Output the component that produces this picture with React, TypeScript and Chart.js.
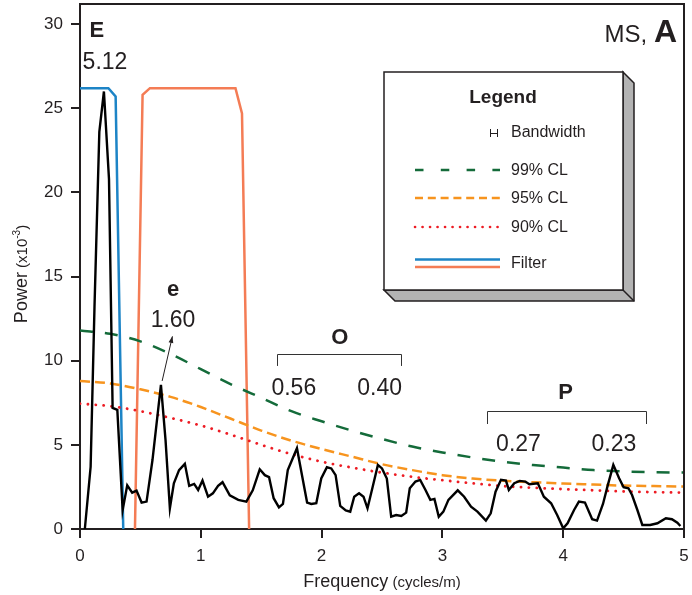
import React, { useEffect, useRef } from "react";
import { Chart, registerables } from "chart.js";

Chart.register(...registerables);

// ---- data ----
const freq: number[] = [
  0.04, 0.088, 0.12, 0.16, 0.198, 0.24, 0.27, 0.309, 0.353, 0.391, 0.432, 0.468, 0.51, 0.551,
  0.6, 0.67, 0.708, 0.744, 0.777, 0.82, 0.868, 0.904, 0.945, 0.978, 1.014, 1.06, 1.1, 1.143,
  1.18, 1.24, 1.31, 1.377, 1.43, 1.488, 1.53, 1.565, 1.603, 1.647, 1.68, 1.72, 1.796, 1.84,
  1.88, 1.915, 1.956, 1.997, 2.044, 2.08, 2.116, 2.154, 2.2, 2.237, 2.27, 2.31, 2.347, 2.38,
  2.42, 2.466, 2.5, 2.54, 2.576, 2.617, 2.66, 2.7, 2.73, 2.777, 2.816, 2.86, 2.9, 2.934, 2.97,
  3.008, 3.05, 3.127, 3.18, 3.237, 3.29, 3.36, 3.4, 3.44, 3.485, 3.526, 3.55, 3.595, 3.64,
  3.686, 3.72, 3.79, 3.84, 3.9, 3.95, 4.0, 4.036, 4.09, 4.13, 4.18, 4.24, 4.28, 4.33, 4.366,
  4.415, 4.463, 4.5, 4.54, 4.57, 4.614, 4.655, 4.72, 4.78, 4.85, 4.9, 4.945, 4.97,
];
const power: number[] = [
  0, 3.7, 13.2, 23.6, 26.0, 20.8, 7.2, 7.08, 1.13, 2.6, 2.16, 2.28, 1.57, 1.63,
  4.1, 8.57, 5.3, 1.23, 2.72, 3.5, 3.87, 2.56, 2.68, 2.32, 2.88, 1.92, 2.12, 2.56,
  2.78, 2.0, 1.73, 1.63, 2.3, 3.55, 3.2, 3.08, 1.83, 1.29, 1.49, 3.5, 4.8, 3.1,
  1.57, 1.49, 1.53, 3.0, 3.67, 3.6, 3.2, 1.37, 1.1, 1.03, 1.92, 2.12, 1.92, 1.23,
  2.42, 3.81, 3.6, 3.0, 0.73, 0.83, 0.77, 0.97, 2.42, 2.82, 2.92, 2.32, 1.73, 1.79, 0.73,
  1.03, 1.73, 2.3, 1.92, 1.33, 1.03, 0.5, 0.93, 2.22, 2.92, 2.88, 2.32, 2.72, 2.86,
  2.82, 2.66, 2.72, 1.92, 1.53, 0.83, 0.04, 0.34, 1.13, 1.63, 1.57, 0.58, 0.5, 1.5, 2.52,
  3.81, 3.02, 2.48, 2.42, 2.02, 1.13, 0.24, 0.24, 0.34, 0.64, 0.58, 0.37, 0.18,
];

const clFreq: number[] = [
  0, 0.25, 0.5, 0.75, 1.0, 1.25, 1.5, 1.75, 2.0, 2.25, 2.5, 2.75, 3.0, 3.25, 3.5, 3.75, 4.0,
  4.25, 4.5, 4.75, 5.0,
];
const cl99: number[] = [
  11.8, 11.6, 11.15, 10.4, 9.5, 8.6, 7.8, 7.0, 6.4, 5.85, 5.35, 4.9, 4.55, 4.25, 4.0, 3.8,
  3.65, 3.5, 3.42, 3.38, 3.35,
];
const cl95: number[] = [
  8.8, 8.65, 8.3, 7.85, 7.25, 6.55, 5.85, 5.25, 4.75, 4.3, 3.85, 3.5, 3.2, 3.0, 2.87, 2.78,
  2.7, 2.64, 2.58, 2.55, 2.52,
];
const cl90: number[] = [
  7.45, 7.3, 7.0, 6.6, 6.15, 5.6, 5.0, 4.45, 4.0, 3.65, 3.35, 3.1, 2.9, 2.72, 2.55, 2.45,
  2.37, 2.3, 2.23, 2.19, 2.16,
];

const filterBlueX: number[] = [0, 0.235, 0.295, 0.358];
const filterBlueY: number[] = [26.2, 26.2, 25.7, 0];
const filterOrangeX: number[] = [0.455, 0.518, 0.579, 1.287, 1.341, 1.4];
const filterOrangeY: number[] = [0, 25.8, 26.2, 26.2, 24.7, 0];

const xTicks: number[] = [0, 1, 2, 3, 4, 5];
const yTicks: number[] = [0, 5, 10, 15, 20, 25, 30];

const legendLabels: string[] = ["Bandwidth", "99% CL", "95% CL", "90% CL", "Filter"];

const FONT = "'Liberation Sans', Arial, Helvetica, sans-serif";
const INK = "#231f20";
const C_GREEN = "#146b3a";
const C_ORANGE = "#f7941e";
const C_RED = "#ed1c24";
const C_BLUE = "#1d84c6";
const C_SALMON = "#f47c55";

const zip = (xs: number[], ys: number[]) => xs.map((x, i) => ({ x, y: ys[i] }));

const decorPlugin = {
  id: "decor",
  afterDraw(chart: any) {
    const ctx: CanvasRenderingContext2D = chart.ctx;
    const xs = chart.scales.x;
    const ys = chart.scales.y;
    const ca = chart.chartArea;
    const px = (v: number) => xs.getPixelForValue(v);
    const py = (v: number) => ys.getPixelForValue(v);
    ctx.save();

    // box border (top & right)
    ctx.strokeStyle = INK;
    ctx.lineWidth = 2;
    ctx.beginPath();
    ctx.moveTo(ca.left, ca.top);
    ctx.lineTo(ca.right, ca.top);
    ctx.lineTo(ca.right, ca.bottom);
    ctx.stroke();

    // annotation text
    const text = (s: string, x: number, y: number, size: number, bold = false, align: CanvasTextAlign = "center") => {
      ctx.font = `${bold ? "bold " : ""}${size}px ${FONT}`;
      ctx.fillStyle = INK;
      ctx.textAlign = align;
      ctx.textBaseline = "middle";
      ctx.fillText(s, px(x), py(y));
    };
    text("E", 0.14, 29.6, 22, true);
    text("5.12", 0.207, 27.7, 23);
    text("e", 0.77, 14.2, 22, true);
    text("1.60", 0.77, 12.36, 23);
    text("O", 2.15, 11.35, 22, true);
    text("0.56", 1.77, 8.32, 23);
    text("0.40", 2.48, 8.32, 23);
    text("P", 4.02, 8.08, 22, true);
    text("0.27", 3.63, 5.0, 23);
    text("0.23", 4.42, 5.0, 23);

    // arrow to e peak label
    const ax0 = px(0.68), ay0 = py(8.8), ax1 = px(0.765), ay1 = py(11.45);
    ctx.strokeStyle = INK;
    ctx.fillStyle = INK;
    ctx.lineWidth = 1;
    ctx.beginPath();
    ctx.moveTo(ax0, ay0);
    ctx.lineTo(ax1, ay1);
    ctx.stroke();
    const ang = Math.atan2(ay1 - ay0, ax1 - ax0);
    ctx.beginPath();
    ctx.moveTo(ax1, ay1);
    ctx.lineTo(ax1 - 7 * Math.cos(ang - 0.35), ay1 - 7 * Math.sin(ang - 0.35));
    ctx.lineTo(ax1 - 7 * Math.cos(ang + 0.35), ay1 - 7 * Math.sin(ang + 0.35));
    ctx.closePath();
    ctx.fill();

    // brackets
    const bracket = (x0: number, x1: number, yTop: number, yBot: number) => {
      ctx.strokeStyle = "#333";
      ctx.lineWidth = 1;
      ctx.beginPath();
      ctx.moveTo(Math.round(px(x0)) + 0.5, py(yBot));
      ctx.lineTo(Math.round(px(x0)) + 0.5, Math.round(py(yTop)) + 0.5);
      ctx.lineTo(Math.round(px(x1)) + 0.5, Math.round(py(yTop)) + 0.5);
      ctx.lineTo(Math.round(px(x1)) + 0.5, py(yBot));
      ctx.stroke();
    };
    bracket(1.63, 2.66, 10.4, 9.69);
    bracket(3.37, 4.685, 7.01, 6.24);

    // MS, A
    ctx.textBaseline = "alphabetic";
    ctx.textAlign = "right";
    ctx.fillStyle = INK;
    ctx.font = `bold 32px ${FONT}`;
    const aW = ctx.measureText("A").width;
    ctx.fillText("A", 677, 42);
    ctx.font = `24px ${FONT}`;
    ctx.fillText("MS, ", 677 - aW, 42);

    // legend box with 3D shadow
    const L = 384, T = 72, R = 623, B = 290, D = 11;
    ctx.lineWidth = 1.5;
    ctx.strokeStyle = INK;
    ctx.fillStyle = "#b3b3b3";
    ctx.beginPath();
    ctx.moveTo(R, T);
    ctx.lineTo(R + D, T + D);
    ctx.lineTo(R + D, B + D);
    ctx.lineTo(L + D, B + D);
    ctx.lineTo(L, B);
    ctx.lineTo(R, B);
    ctx.closePath();
    ctx.fill();
    ctx.stroke();
    ctx.beginPath();
    ctx.moveTo(R, B);
    ctx.lineTo(R + D, B + D);
    ctx.stroke();
    ctx.fillStyle = "#ffffff";
    ctx.fillRect(L, T, R - L, B - T);
    ctx.strokeRect(L, T, R - L, B - T);

    ctx.fillStyle = INK;
    ctx.textAlign = "center";
    ctx.font = `bold 19px ${FONT}`;
    ctx.fillText("Legend", 503, 103);

    ctx.textAlign = "left";
    ctx.font = `16px ${FONT}`;
    const tx = 511;
    const rowsY = [137, 175, 203, 232, 268];
    legendLabels.forEach((s, i) => ctx.fillText(s, tx, rowsY[i]));

    // bandwidth glyph
    ctx.lineWidth = 1;
    ctx.strokeStyle = INK;
    ctx.beginPath();
    ctx.moveTo(490.5, 129);
    ctx.lineTo(490.5, 137);
    ctx.moveTo(497.5, 129);
    ctx.lineTo(497.5, 137);
    ctx.moveTo(490.5, 133.5);
    ctx.lineTo(497.5, 133.5);
    ctx.stroke();

    const sample = (y: number, color: string, dash: number[], width: number, cap: CanvasLineCap = "butt") => {
      ctx.strokeStyle = color;
      ctx.lineWidth = width;
      ctx.setLineDash(dash);
      ctx.lineCap = cap;
      ctx.beginPath();
      ctx.moveTo(415, y);
      ctx.lineTo(500, y);
      ctx.stroke();
      ctx.setLineDash([]);
      ctx.lineCap = "butt";
    };
    sample(170, C_GREEN, [8.5, 17.3], 2.5);
    sample(198, C_ORANGE, [8, 4.8], 2.5);
    sample(227, C_RED, [0.1, 7.4], 2.6, "round");
    sample(259.5, C_BLUE, [], 2.5);
    sample(267, C_SALMON, [], 2.5);

    // axis titles
    ctx.fillStyle = INK;
    ctx.textBaseline = "alphabetic";
    const midX = (ca.left + ca.right) / 2;
    ctx.font = `18px ${FONT}`;
    const w1 = ctx.measureText("Frequency").width;
    ctx.font = `15px ${FONT}`;
    const w2 = ctx.measureText(" (cycles/m)").width;
    let sx = midX - (w1 + w2) / 2;
    ctx.textAlign = "left";
    ctx.font = `18px ${FONT}`;
    ctx.fillText("Frequency", sx, 587);
    ctx.font = `15px ${FONT}`;
    ctx.fillText(" (cycles/m)", sx + w1, 587);

    ctx.save();
    ctx.translate(27, 274);
    ctx.rotate(-Math.PI / 2);
    const parts: [string, number, number][] = [
      ["Power", 18, 0],
      [" (x10", 15, 0],
      ["-3", 10, -7],
      [")", 15, 0],
    ];
    let total = 0;
    parts.forEach(([s, sz]) => {
      ctx.font = `${sz}px ${FONT}`;
      total += ctx.measureText(s).width;
    });
    let cx = -total / 2;
    parts.forEach(([s, sz, dy]) => {
      ctx.font = `${sz}px ${FONT}`;
      ctx.fillText(s, cx, dy);
      cx += ctx.measureText(s).width;
    });
    ctx.restore();

    ctx.restore();
  },
};

export default function App() {
  const ref = useRef<HTMLCanvasElement | null>(null);

  useEffect(() => {
    if (!ref.current) return;
    const chart = new Chart(ref.current, {
      type: "scatter",
      data: {
        datasets: [
          {
            label: "Power",
            data: zip(freq, power),
            showLine: true,
            borderColor: "#000000",
            borderWidth: 2.4,
            pointRadius: 0,
            tension: 0,
            borderJoinStyle: "miter",
          },
          {
            label: "99% CL",
            data: zip(clFreq, cl99),
            showLine: true,
            borderColor: C_GREEN,
            borderWidth: 2.5,
            borderDash: [13, 12],
            pointRadius: 0,
            cubicInterpolationMode: "monotone",
          },
          {
            label: "95% CL",
            data: zip(clFreq, cl95),
            showLine: true,
            borderColor: C_ORANGE,
            borderWidth: 2.5,
            borderDash: [10, 5],
            pointRadius: 0,
            cubicInterpolationMode: "monotone",
          },
          {
            label: "90% CL",
            data: zip(clFreq, cl90),
            showLine: true,
            borderColor: C_RED,
            borderWidth: 2.8,
            borderDash: [0.1, 7.8],
            borderCapStyle: "round",
            pointRadius: 0,
            cubicInterpolationMode: "monotone",
          },
          {
            label: "Filter low",
            data: zip(filterBlueX, filterBlueY),
            showLine: true,
            borderColor: C_BLUE,
            borderWidth: 2.5,
            pointRadius: 0,
            tension: 0,
          },
          {
            label: "Filter band",
            data: zip(filterOrangeX, filterOrangeY),
            showLine: true,
            borderColor: C_SALMON,
            borderWidth: 2.5,
            pointRadius: 0,
            tension: 0,
          },
        ],
      },
      options: {
        animation: false,
        responsive: false,
        devicePixelRatio: 1,
        layout: { padding: { top: 4, right: 8, left: 0, bottom: 0 } },
        plugins: { legend: { display: false }, tooltip: { enabled: false } },
        scales: {
          x: {
            type: "linear",
            min: 0,
            max: 5,
            afterBuildTicks: (s: any) => {
              s.ticks = xTicks.map((v) => ({ value: v }));
            },
            afterFit: (s: any) => {
              s.height = 66;
              s.paddingLeft = 0;
              s.paddingRight = 0;
            },
            ticks: {
              color: INK,
              font: { family: FONT, size: 17 },
              padding: 8,
              maxRotation: 0,
            },
            grid: {
              drawOnChartArea: false,
              drawTicks: true,
              tickLength: 9,
              color: INK,
              lineWidth: 2,
            },
            border: { color: INK, width: 2 },
          },
          y: {
            type: "linear",
            min: 0,
            max: 31.2,
            afterBuildTicks: (s: any) => {
              s.ticks = yTicks.map((v) => ({ value: v }));
            },
            afterFit: (s: any) => {
              s.width = 80;
              s.paddingTop = 0;
              s.paddingBottom = 0;
            },
            ticks: {
              color: INK,
              font: { family: FONT, size: 17 },
              padding: 8,
            },
            grid: {
              drawOnChartArea: false,
              drawTicks: true,
              tickLength: 9,
              color: INK,
              lineWidth: 2,
            },
            border: { color: INK, width: 2 },
          },
        },
      },
      plugins: [decorPlugin],
    } as any);
    return () => chart.destroy();
  }, []);

  return (
    <div style={{ position: "fixed", left: 0, top: 0, width: 692, height: 595, background: "#fff" }}>
      <canvas ref={ref} width={692} height={595} style={{ display: "block", width: 692, height: 595 }} />
    </div>
  );
}
